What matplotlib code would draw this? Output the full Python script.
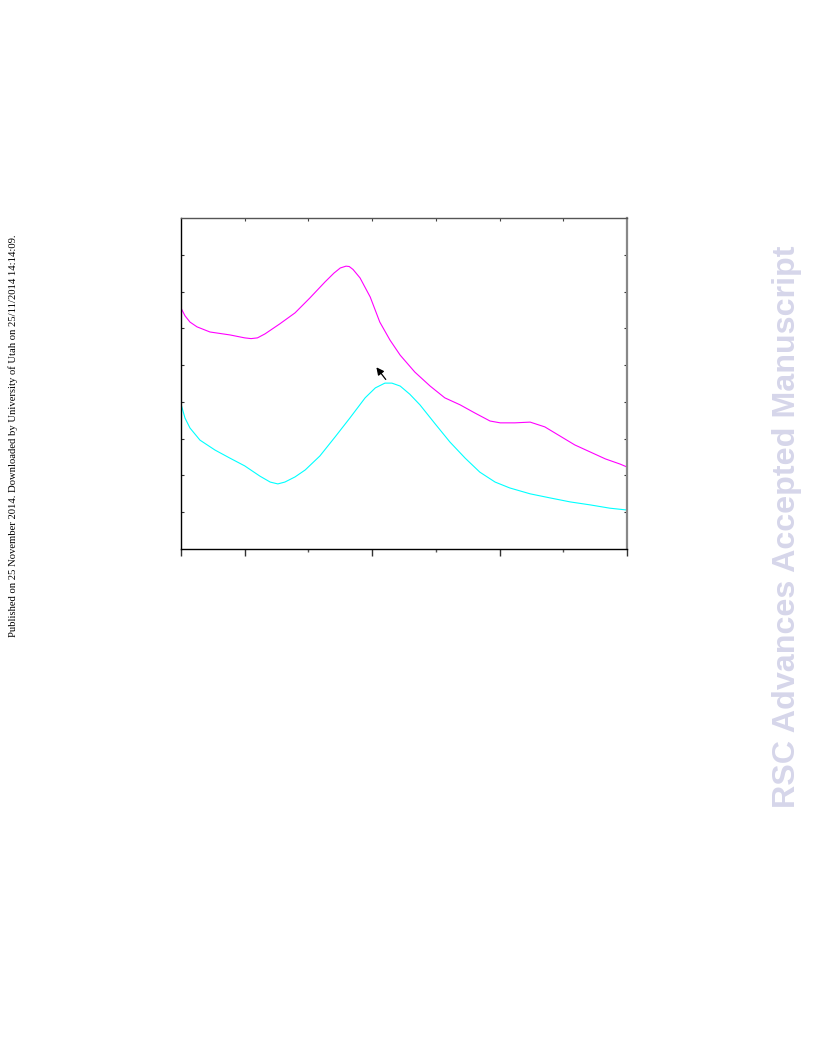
import numpy as np
from matplotlib import pyplot as plt

# magenta trace
x_mag = [0, 0.063, 0.141, 0.251, 0.455, 0.769, 1.0, 1.1, 1.2, 1.32, 1.55, 1.79, 2.02, 2.26,
         2.40, 2.50, 2.59, 2.64, 2.70, 2.81, 2.97, 3.12, 3.28, 3.44, 3.67, 3.91, 4.14, 4.38, 4.61,
         4.85, 5.01, 5.24, 5.48, 5.71, 5.95, 6.18, 6.42, 6.66, 6.89, 7.0]
y_mag = [6.55, 6.34, 6.17, 6.04, 5.90, 5.82, 5.74, 5.72, 5.74, 5.85, 6.12, 6.42, 6.82, 7.26,
         7.50, 7.64, 7.69, 7.68, 7.60, 7.37, 6.85, 6.17, 5.68, 5.27, 4.81, 4.43, 4.11, 3.92, 3.70,
         3.48, 3.43, 3.43, 3.45, 3.32, 3.07, 2.83, 2.64, 2.45, 2.31, 2.23]

# cyan trace
x_cyan = [0, 0.063, 0.141, 0.298, 0.534, 0.769, 1.0, 1.24, 1.40, 1.52, 1.63, 1.79, 1.95,
          2.18, 2.42, 2.65, 2.89, 3.05, 3.20, 3.31, 3.44, 3.59, 3.75, 3.99, 4.22, 4.46,
          4.69, 4.93, 5.16, 5.48, 5.79, 6.11, 6.42, 6.73, 7.0]
y_cyan = [3.94, 3.56, 3.29, 2.96, 2.69, 2.47, 2.26, 1.98, 1.82, 1.77, 1.82, 1.96, 2.15,
          2.53, 3.05, 3.56, 4.11, 4.38, 4.51, 4.51, 4.43, 4.21, 3.92, 3.40, 2.91, 2.47,
          2.09, 1.82, 1.66, 1.50, 1.39, 1.28, 1.20, 1.11, 1.06]

# arrow (tail -> head)
arrow_tail = (3.24, 4.55)
arrow_head = (3.04, 5.0)

fig = plt.figure(figsize=(8.16, 10.56), dpi=100)
ax = fig.add_axes([0.2218, 0.4801, 0.5466, 0.3135])

ax.plot(x_mag, y_mag, color='#ff00ff', lw=0.8)
ax.plot(x_cyan, y_cyan, color='#00ffff', lw=0.8)
ax.annotate('', xy=arrow_head, xytext=arrow_tail,
            arrowprops=dict(arrowstyle='-|>', color='black', lw=0.9, mutation_scale=11))

ax.set_xlim(0, 7)
ax.set_ylim(0, 9)

# bottom: outward ticks, long and short
ax.set_xticks([0, 1, 3, 5, 7])
ax.set_xticks([2, 4, 6], minor=True)
ax.tick_params(axis='x', which='major', direction='out', length=5, width=1,
               bottom=True, top=False, labelbottom=False, color='#333333')
ax.tick_params(axis='x', which='minor', direction='out', length=2.5, width=1,
               bottom=True, top=False, color='#555555')
ax.set_yticks(np.arange(1, 9))
ax.tick_params(axis='y', direction='in', length=2, width=0.8, left=True, right=True,
               labelleft=False, color='#333333')

# top inward ticks drawn with a twin axis
top = ax.secondary_xaxis('top')
top.set_xticks(np.arange(1, 7))
top.tick_params(direction='in', length=2, width=0.8, labeltop=False, color='#444444')
top.spines['top'].set_visible(False)

ax.spines['left'].set_color('black')
ax.spines['bottom'].set_color('black')
ax.spines['top'].set_color('#555555')
ax.spines['right'].set_color('#888888')
ax.spines['right'].set_linewidth(1.6)
for s in ['left', 'bottom', 'top']:
    ax.spines[s].set_linewidth(1.0)

fig.text(0.016, 0.587, 'Published on 25 November 2014. Downloaded by University of Utah on 25/11/2014 14:14:09.',
         rotation=90, ha='center', va='center', fontsize=7.65, family='Liberation Serif')
fig.text(0.965, 0.501, 'RSC Advances Accepted Manuscript', rotation=90, ha='center', va='center',
         fontsize=23.2, fontweight='bold', family='Liberation Sans', color='#d6d6ea')

fig.savefig('out.png', dpi=100)
